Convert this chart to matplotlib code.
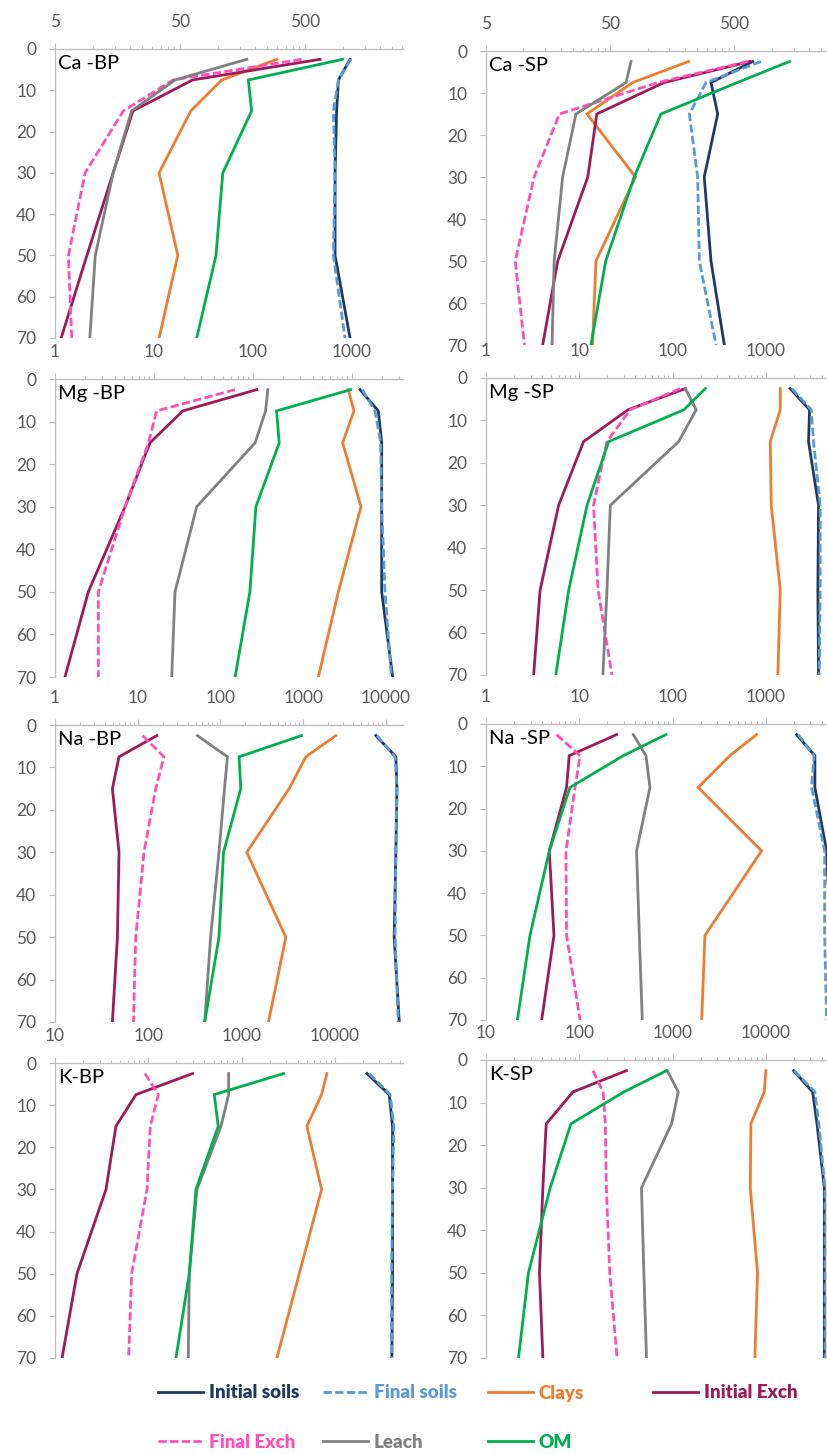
import matplotlib
matplotlib.use("Agg")
import matplotlib.pyplot as plt
from matplotlib.ticker import LogLocator, FuncFormatter, NullFormatter

plt.rcParams['font.family'] = ['Lato', 'DejaVu Sans']

# Depth of each sample (cm)
depth = [2.5, 7.5, 15, 30, 50, 70]

series = ["Initial soils", "Final soils", "Clays", "Initial Exch",
          "Final Exch", "Leach", "OM"]
colors = ["#1F3864", "#5B9BD5", "#ED7D31", "#9E1B57",
          "#FF4FB8", "#808080", "#00B050"]
dashed = [False, True, False, False, True, False, False]

# values per panel, rows in the order of `series`
ca_bp = [[1146, 925, 895, 870, 870, 1146],
         [1160, 925, 843, 870, 843, 1045],
         [297, 108, 61, 34, 48, 34],
         [660, 63, 21, 14.6, 9, 5.6],
         [470, 44, 17.6, 8.7, 6.4, 6.8],
         [171, 45.6, 20.5, 14.6, 10.5, 9.5],
         [1000, 176, 187, 110, 97, 68]]
ca_sp = [[703, 324, 367, 286, 324, 415],
         [820, 296, 217, 253, 261, 356],
         [214, 76, 32.5, 80, 38.4, 36],
         [668, 136, 39, 33, 18.9, 14.3],
         [640, 121, 19.5, 12.2, 8.6, 10.2],
         [73.6, 67, 26.5, 20.7, 17.7, 17],
         [1387, 529, 128, 78, 46, 35]]
mg_bp = [[1205, 1845, 1995, 1995, 1995, 2575],
         [1270, 1707, 1950, 1995, 2154, 2500],
         [918, 1047, 805, 1233, 728, 457],
         [109, 19.5, 9.1, 5.1, 2.17, 1.26],
         [65.8, 10.6, 8.8, 5.1, 2.74, 2.74],
         [141, 134, 105, 27, 16.3, 15.1],
         [970, 173, 184, 107, 93, 66]]
mg_sp = [[1820, 2937, 2865, 3667, 3606, 3667],
         [1900, 3060, 3240, 3820, 3820, 3725],
         [1425, 1425, 1113, 1140, 1425, 1344],
         [137, 33.2, 11.1, 6.0, 3.8, 3.24],
         [121, 35, 19.8, 14.2, 15.9, 22.4],
         [137, 179, 116, 21.5, 19.8, 17.9],
         [224, 132, 20.6, 12.1, 7.7, 5.6]]
na_bp = [[7570, 13200, 13590, 13200, 12600, 14500],
         [7800, 12900, 13590, 13200, 12900, 14100],
         [2483, 1077, 677, 208, 617, 381],
         [17, 5.94, 4.94, 5.94, 5.68, 4.94],
         [11.4, 20.8, 16.5, 11.9, 9.46, 8.87],
         [52.7, 121.5, 112, 96, 76, 64.6],
         [955, 168, 176, 109, 96, 64.6]]
na_sp = [[2130, 3350, 3350, 4470, 4900, 4900],
         [2220, 3280, 3086, 4263, 4263, 4470],
         [794, 411, 188, 899, 222, 205],
         [25.1, 7.8, 7.3, 4.77, 5.35, 3.95],
         [5.7, 10.2, 9.0, 7.2, 7.3, 10.2],
         [37.9, 51.8, 57.2, 41.1, 44, 47.3],
         [84.8, 29.6, 7.94, 4.77, 2.96, 2.17]]
k_bp = [[22000, 38200, 41500, 41500, 41500, 40800],
        [23300, 39100, 42800, 41500, 40500, 40500],
        [8210, 7200, 5010, 7200, 4150, 2390],
        [298, 73.8, 45, 35.2, 17.2, 11.9],
        [92, 128, 105, 96.8, 66.3, 61.5],
        [726, 726, 601, 332, 275, 268],
        [2820, 509, 562, 324, 275, 198]]
k_sp = [[19800, 31700, 35300, 42300, 42300, 42300],
        [20100, 33500, 36900, 43000, 43000, 43000],
        [10000, 9600, 6900, 6800, 8130, 7620],
        [320, 85.5, 44.2, 40.7, 37.4, 40.7],
        [140, 180, 190, 195, 212, 254],
        [877, 1150, 975, 464, 492, 525],
        [862, 300, 81.3, 48.8, 28.5, 22.3]]

titles = ["Ca -BP", "Ca -SP", "Mg -BP", "Mg -SP",
          "Na -BP", "Na -SP", "K-BP", "K-SP"]
panels = [ca_bp, ca_sp, mg_bp, mg_sp, na_bp, na_sp, k_bp, k_sp]
xlims = [(5, 3040), (5, 3170), (1, 3275), (1, 5370),
         (1, 16100), (1, 5370), (10, 53700), (10, 53700)]

W, H = 828, 1454
# pixel boxes: left, top, width, bottom
boxes = [(55, 49, 348, 338), (486, 51, 348, 345),
         (55, 379, 348, 677), (486, 378, 348, 675),
         (55, 725, 348, 1022), (486, 724, 348, 1020),
         (55, 1063, 348, 1358), (486, 1060, 348, 1358)]

axis_gray = "#BFBFBF"
label_gray = "#595959"

fig = plt.figure(figsize=(W / 100, H / 100), dpi=100)

handles = None
for title, data, xl, (l, t, w, b) in zip(titles, panels, xlims, boxes):
    ax = fig.add_axes([l / W, 1 - b / H, w / W, (b - t) / H])
    lines = []
    for vals, c, d in zip(data, colors, dashed):
        ln, = ax.plot(vals, depth, color=c, lw=2.0,
                      solid_joinstyle='miter')
        if d:
            ln.set_dashes((3.0, 1.2))
        lines.append(ln)
    if handles is None:
        handles = lines

    ax.set_xscale('log')
    ax.set_xlim(*xl)
    ax.set_ylim(70, 0)
    ax.set_yticks(range(0, 71, 10))

    if xl[0] == 5:
        ax.xaxis.set_major_locator(LogLocator(base=10, subs=(5,)))
        ax.xaxis.set_minor_locator(LogLocator(base=10, subs=(1, 1.5, 2, 2.5, 3, 3.5, 4, 4.5)))
    else:
        ax.xaxis.set_major_locator(LogLocator(base=10, subs=(1,)))
        ax.xaxis.set_minor_locator(LogLocator(base=10, subs=range(2, 10)))
    ax.xaxis.set_major_formatter(FuncFormatter(lambda v, p: f"{v:g}"))
    ax.xaxis.set_minor_formatter(NullFormatter())
    ax.xaxis.tick_top()

    for s in ['right', 'bottom']:
        ax.spines[s].set_visible(False)
    for s in ['top', 'left']:
        ax.spines[s].set_color(axis_gray)
        ax.spines[s].set_linewidth(1.0)

    ax.tick_params(axis='x', which='major', direction='out', length=4.5,
                   width=0.8, color=axis_gray, labelcolor=label_gray,
                   labelsize=12.5, pad=9.5)
    ax.tick_params(axis='x', which='minor', direction='out', length=2.5,
                   width=0.8, color=axis_gray)
    ax.tick_params(axis='y', direction='out', length=4.5, width=0.8,
                   color=axis_gray, labelcolor=label_gray, labelsize=12.5, pad=9)
    ax.set_facecolor('none')

    ax.annotate(title, xy=(0, 1), xycoords='axes fraction', xytext=(2.5, -4.5),
                textcoords='offset points', ha='left', va='top',
                fontsize=14.5, color='black')

# legend, one entry at a time laid out on a 4-column grid
leg_pos = [(158, 1393), (323, 1393), (488, 1393), (653, 1393),
           (158, 1442), (323, 1442), (488, 1442)]
for h, name, (x, y) in zip(handles, series, leg_pos):
    fig.legend(handles=[h], labels=[name], loc='center left',
               bbox_to_anchor=(x / W, 1 - y / H), frameon=False,
               borderpad=0, borderaxespad=0, handlelength=2.4,
               handletextpad=0.3, labelcolor='linecolor',
               prop=dict(family=['Lato', 'DejaVu Sans'], weight='heavy', size=13.5))

fig.savefig("out.png", dpi=100)
